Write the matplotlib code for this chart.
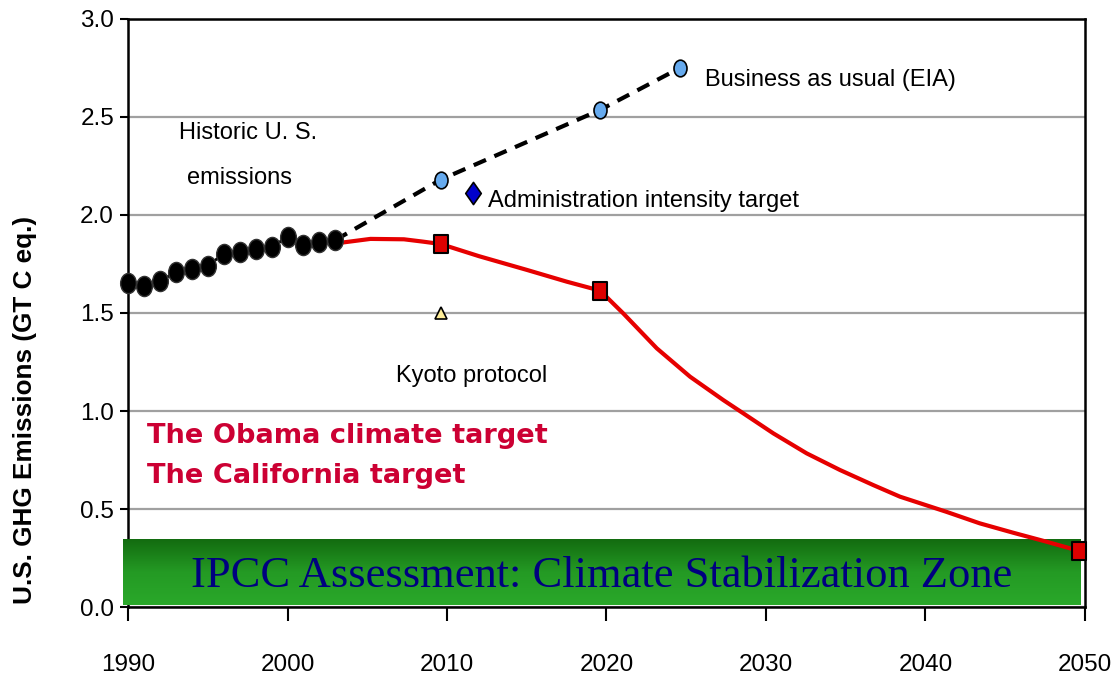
import numpy as np
from matplotlib import pyplot as plt
from matplotlib.path import Path
from matplotlib.transforms import Affine2D
from matplotlib.colors import LinearSegmentedColormap

# historic U.S. emissions (GT C eq.)
hist_years = list(range(1990, 2004))
hist_vals = [1.655, 1.639, 1.663, 1.708, 1.723, 1.742, 1.801, 1.813,
             1.825, 1.835, 1.889, 1.848, 1.864, 1.872]

# business as usual (EIA)
bau_years = [2009.6, 2019.6, 2024.6]
bau_vals = [2.18, 2.536, 2.75]

# target path (Obama / California)
target_years = [2003.4, 2005.2, 2007.3, 2008.5, 2009.6, 2012.0, 2015.0, 2017.5, 2019.6,
                2021.05, 2023.15, 2025.24, 2027.32, 2028.58, 2030.46, 2032.55,
                2034.64, 2036.73, 2038.4, 2041.3, 2043.4, 2045.5, 2047.6, 2049.6]
target_vals = [1.859, 1.878, 1.876, 1.864, 1.852, 1.79, 1.72, 1.66, 1.614,
               1.498, 1.320, 1.175, 1.056, 0.988, 0.886, 0.784,
               0.699, 0.622, 0.563, 0.486, 0.427, 0.379, 0.333, 0.287]
target_mark_years = [2009.6, 2019.6, 2049.6]
target_mark_vals = [1.852, 1.614, 0.287]

admin_year, admin_val = 2011.6, 2.11
kyoto_year, kyoto_val = 2009.6, 1.50

zone_top = 0.342

plt.rcParams['font.family'] = ['Liberation Sans', 'DejaVu Sans']

fig = plt.figure(figsize=(11.19, 6.75), dpi=100)
ax = fig.add_axes([0.1144, 0.1007, 0.8552, 0.8712])

ellipse = Path.unit_circle().transformed(Affine2D().scale(0.78, 1.0))
rect = Path.unit_rectangle().transformed(Affine2D().translate(-0.5, -0.5).scale(0.72, 1.0))
diamond = Path.unit_regular_polygon(4).transformed(Affine2D().scale(0.7, 1.0))

ax.yaxis.grid(True, color='#a0a0a0', linewidth=1.6, zorder=0)
ax.set_axisbelow(True)

# BAU dashed line
ax.plot([hist_years[-1]] + bau_years, [hist_vals[-1]] + bau_vals, color='black',
        linewidth=3, dashes=(3.2, 2.2), zorder=3)
ax.plot(bau_years, bau_vals, linestyle='none', marker=ellipse, markersize=12,
        markerfacecolor='#66aaee', markeredgecolor='black', markeredgewidth=1.2, zorder=5)

# target line (drawn over the green zone)
ax.plot(target_years, target_vals, color='#e60000', linewidth=3, zorder=5)
ax.plot(target_mark_years, target_mark_vals, linestyle='none', marker=rect, markersize=13.5,
        markerfacecolor='#dd0000', markeredgecolor='black', markeredgewidth=1.5, zorder=6,
        clip_on=False)

# historic
ax.plot(hist_years, hist_vals, color='black', linewidth=2, marker=ellipse, markersize=14.5,
        markerfacecolor='black', markeredgecolor='#333333', zorder=5.5, clip_on=False)

ax.plot([admin_year], [admin_val], linestyle='none', marker=diamond, markersize=16,
        markerfacecolor='#0000cc', markeredgecolor='black', markeredgewidth=1.2, zorder=5)
ax.plot([kyoto_year], [kyoto_val], linestyle='none', marker='^', markersize=9,
        markerfacecolor='#ffee99', markeredgecolor='black', markeredgewidth=1.2, zorder=5)

# stabilization zone band
cmap = LinearSegmentedColormap.from_list('zone', ['#136c10', '#249a24', '#2aa82a'])
grad = np.linspace(0, 1, 64).reshape(-1, 1)
ax.imshow(grad, cmap=cmap, aspect='auto', extent=[1989.67, 2049.69, 0.008, zone_top],
          origin='upper', zorder=4, clip_on=False, interpolation='bilinear')
ax.text(2019.7, 0.16, 'IPCC Assessment: Climate Stabilization Zone', fontsize=32,
        family=['Liberation Serif', 'DejaVu Serif'], color='#000080', ha='center',
        va='center', zorder=6)

# annotations
ax.text(1997.5, 2.42, 'Historic U. S.', fontsize=17, ha='center', va='center')
ax.text(1997.0, 2.19, 'emissions', fontsize=17, ha='center', va='center')
ax.text(2026.2, 2.69, 'Business as usual (EIA)', fontsize=17, ha='left', va='center')
ax.text(2012.6, 2.07, 'Administration intensity target', fontsize=17, ha='left', va='center')
ax.text(2006.8, 1.18, 'Kyoto protocol', fontsize=17, ha='left', va='center')
ax.text(1991.2, 0.87, 'The Obama climate target', fontsize=19.6, fontweight='bold',
        family=['DejaVu Sans'], color='#cc0033', ha='left', va='center', zorder=6)
ax.text(1991.2, 0.67, 'The California target', fontsize=19.6, fontweight='bold',
        family=['DejaVu Sans'], color='#cc0033', ha='left', va='center', zorder=6)

ax.set_xlim(1990, 2050)
ax.set_ylim(0, 3)
ax.set_xticks(range(1990, 2051, 10))
ax.set_yticks(np.arange(0, 3.01, 0.5))
ax.set_yticklabels([f'{v:.1f}' for v in np.arange(0, 3.01, 0.5)])
ax.tick_params(axis='x', direction='out', length=10, width=1.5, pad=24, labelsize=17.5)
ax.tick_params(axis='y', direction='out', length=6, width=1.5, pad=4, labelsize=17.5)
for s in ax.spines.values():
    s.set_linewidth(1.8)
ax.set_ylabel('U.S. GHG Emissions (GT C eq.)', fontsize=18.8, fontweight='bold')
ax.yaxis.set_label_coords(-0.095, 0.335)

fig.savefig('out.png', dpi=100)
